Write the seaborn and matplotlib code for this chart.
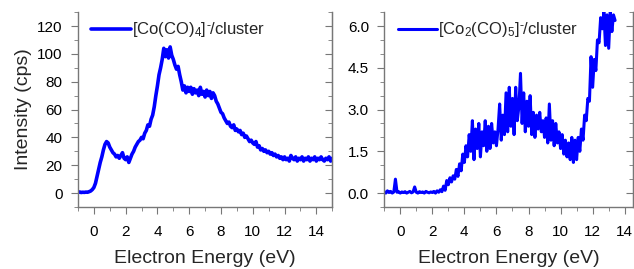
import numpy as np
import pandas as pd
import matplotlib.pyplot as plt
import seaborn as sns
from matplotlib.ticker import MultipleLocator

# energy grids (eV)
energy_co = np.round(np.arange(-1.0, 15.01, 0.1), 1)
energy_co2 = np.round(np.arange(-1.0, 13.41, 0.1), 1)

# [Co(CO)4]-/cluster, counts per second
intensity_co = [
    0.5, 0.8, 0.4, 0.6, 0.5, 0.7, 0.6, 1.0, 1.5, 2.5,
    4, 7, 12, 17, 22, 26, 31, 35, 37, 36,
    33, 31, 29, 28, 26, 27, 25, 27, 29, 25,
    24, 26, 22, 25, 28, 30, 33, 35, 37, 38,
    40, 39, 43, 45, 49, 48, 53, 56, 62, 70,
    77, 85, 90, 96, 104, 98, 103, 97, 105, 99,
    96, 92, 89, 91, 85, 80, 74, 77, 72, 76,
    73, 76, 71, 75, 72, 74, 70, 76, 71, 73,
    69, 74, 70, 73, 68, 72, 70, 66, 64, 61,
    58, 57, 54, 52, 50, 51, 48, 47, 49, 45,
    46, 44, 45, 42, 43, 40, 41, 39, 37, 38,
    36, 35, 37, 33, 34, 31, 32, 30, 31, 29,
    30, 28, 29, 27, 28, 26, 27, 25, 26, 24,
    26, 24, 25, 23, 27, 25, 24, 26, 23, 25,
    24, 26, 23, 25, 24, 26, 23, 25, 24, 26,
    23, 25, 24, 26, 24, 23, 25, 24, 26, 23, 25,
]

# [Co2(CO)5]-/cluster, counts per second
intensity_co2 = [
    0.05, 0.0, 0.08, 0.02, 0.06, 0.0, 0.04, 0.5, 0.03, 0.05,
    0.0, 0.04, 0.02, 0.05, 0.0, 0.03, 0.06, 0.01, 0.04, 0.22,
    0.03, 0.0, 0.05, 0.02, 0.04, 0.0, 0.06, 0.03, 0.01, 0.04,
    0.02, 0.06, 0.0, 0.08, 0.03, 0.12, 0.05, 0.25, 0.1, 0.45,
    0.3, 0.55, 0.4, 0.62, 0.5, 0.85, 0.6, 1.05, 0.8, 1.4,
    1.1, 1.7, 1.3, 2.1, 1.5, 2.6, 1.2, 2.3, 1.6, 2.5,
    1.3, 2.2, 1.7, 2.6, 1.5, 2.4, 1.6, 2.5, 1.8, 2.2,
    1.7, 2.3, 3.2, 1.9, 2.8, 2.1, 3.6, 2.2, 3.8, 2.4,
    3.4, 2.1, 3.8, 2.6, 3.1, 4.3, 2.5, 3.6, 2.2, 3.3,
    2.4, 3.5, 2.1, 2.9, 2.0, 2.8, 2.3, 2.9, 2.2, 2.6,
    2.0, 2.7, 1.8, 3.2, 1.9, 2.6, 1.7, 2.5, 1.8, 2.2,
    1.6, 2.1, 1.4, 1.9, 1.3, 1.8, 1.2, 2.0, 1.1, 1.9,
    1.2, 2.0, 1.5, 2.3, 1.9, 2.8, 2.6, 3.4, 3.3, 4.9,
    3.8, 4.8, 4.4, 5.5, 5.4, 6.3, 5.9, 6.5, 5.3, 6.4,
    5.2, 6.5, 5.8, 6.4, 6.2,
]

labels = [r'[Co(CO)$_4$]$^{\bar{\ }}$/cluster', r'[Co$_2$(CO)$_5$]$^{\bar{\ }}$/cluster']

df_co = pd.DataFrame({'Energy': energy_co, 'Intensity': intensity_co})
df_co2 = pd.DataFrame({'Energy': energy_co2, 'Intensity': intensity_co2})

sns.set_style('ticks')
plt.rcParams['font.family'] = ['Liberation Sans', 'DejaVu Sans']
plt.rcParams['mathtext.fontset'] = 'custom'
plt.rcParams['mathtext.rm'] = 'Liberation Sans'
plt.rcParams['mathtext.it'] = 'Liberation Sans'

fig = plt.figure(figsize=(6.34, 2.69), dpi=100)
ax1 = fig.add_axes([0.123, 0.2305, 0.401, 0.7245])
ax2 = fig.add_axes([0.606, 0.2305, 0.392, 0.7245])

sns.lineplot(data=df_co, x='Energy', y='Intensity', ax=ax1, color='#0000ff',
             linewidth=2.6, label=labels[0])
sns.lineplot(data=df_co2, x='Energy', y='Intensity', ax=ax2, color='#0000ff',
             linewidth=2.2, label=labels[1])

ax1.set_xlim(-1, 15)
ax1.set_ylim(-10, 130)
ax1.yaxis.set_major_locator(MultipleLocator(20))
ax1.yaxis.set_minor_locator(MultipleLocator(10))
ax1.set_ylabel('Intensity (cps)', fontsize=14, labelpad=4)

ax2.set_xlim(-1, 14.5)
ax2.set_ylim(-0.5, 6.5)
ax2.yaxis.set_major_locator(MultipleLocator(1.5))
ax2.yaxis.set_minor_locator(MultipleLocator(0.5))
ax2.yaxis.set_major_formatter(plt.FormatStrFormatter('%.1f'))
ax2.set_ylabel('')

spine_col = '#777777'
for ax in (ax1, ax2):
    ax.xaxis.set_major_locator(MultipleLocator(2))
    ax.xaxis.set_minor_locator(MultipleLocator(1))
    ax.set_xlabel('Electron Energy (eV)', fontsize=14, labelpad=8)
    ax.spines['top'].set_visible(False)
    for s in ('left', 'right', 'bottom'):
        ax.spines[s].set_color(spine_col)
        ax.spines[s].set_linewidth(1.0)
    ax.tick_params(which='both', direction='out', colors=spine_col, labelcolor='black',
                   labelsize=11)
    ax.tick_params(axis='x', which='major', pad=8)
    ax.tick_params(axis='y', which='major', pad=6)
    ax.tick_params(which='major', length=5)
    ax.tick_params(which='minor', length=3)

    # inward ticks on the right spine, no labels
    sec = ax.secondary_yaxis('right')
    sec.yaxis.set_major_locator(ax.yaxis.get_major_locator())
    sec.yaxis.set_minor_locator(ax.yaxis.get_minor_locator())
    sec.spines['right'].set_color(spine_col)
    sec.tick_params(which='both', direction='in', colors=spine_col, labelright=False)
    sec.tick_params(which='major', length=5)
    sec.tick_params(which='minor', length=3)

    ax.legend(loc='upper left', frameon=False, fontsize=12,
              handlelength=2.35, handletextpad=0.1, borderaxespad=0.1,
              bbox_to_anchor=(0.02, 1.0))

fig.savefig('out.png', dpi=100)
